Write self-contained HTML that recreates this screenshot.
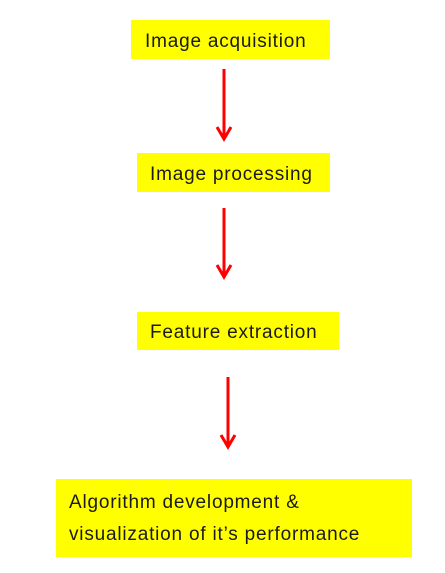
<!DOCTYPE html>
<html><head><style>
body{margin:0;width:445px;height:573px;background:#fff;position:relative;font-family:"Liberation Sans",sans-serif;color:#1a1a1a;overflow:hidden}
.b{position:absolute;background:#ffff00;font-size:19px;letter-spacing:0.8px;line-height:30px;white-space:nowrap}
</style></head><body>
<div class="b" style="left:131px;top:20px;width:199px;height:39px;"><span style="position:absolute;left:14px;top:7px">Image acquisition</span></div>
<div class="b" style="left:137px;top:153px;width:193px;height:39px;"><span style="position:absolute;left:13px;top:7px">Image processing</span></div>
<div class="b" style="left:137px;top:312px;width:202px;height:38px;"><span style="position:absolute;left:13px;top:6px">Feature extraction</span></div>
<div class="b" style="left:56px;top:479px;width:356px;height:78px;"><span style="position:absolute;left:13px;top:8px;line-height:32px">Algorithm development &amp;<br>visualization of it’s performance</span></div>
<svg width="445" height="573" style="position:absolute;left:0;top:0">
<g stroke="#ff0000" stroke-width="3" fill="none">
<line x1="224" y1="69" x2="224" y2="138"/><polyline points="217,127 224,139 231,127"/>
<line x1="224" y1="208" x2="224" y2="276"/><polyline points="217,265 224,277 231,265"/>
<line x1="228" y1="377" x2="228" y2="446"/><polyline points="221,435 228,447 235,435"/>
</g></svg>
</body></html>
